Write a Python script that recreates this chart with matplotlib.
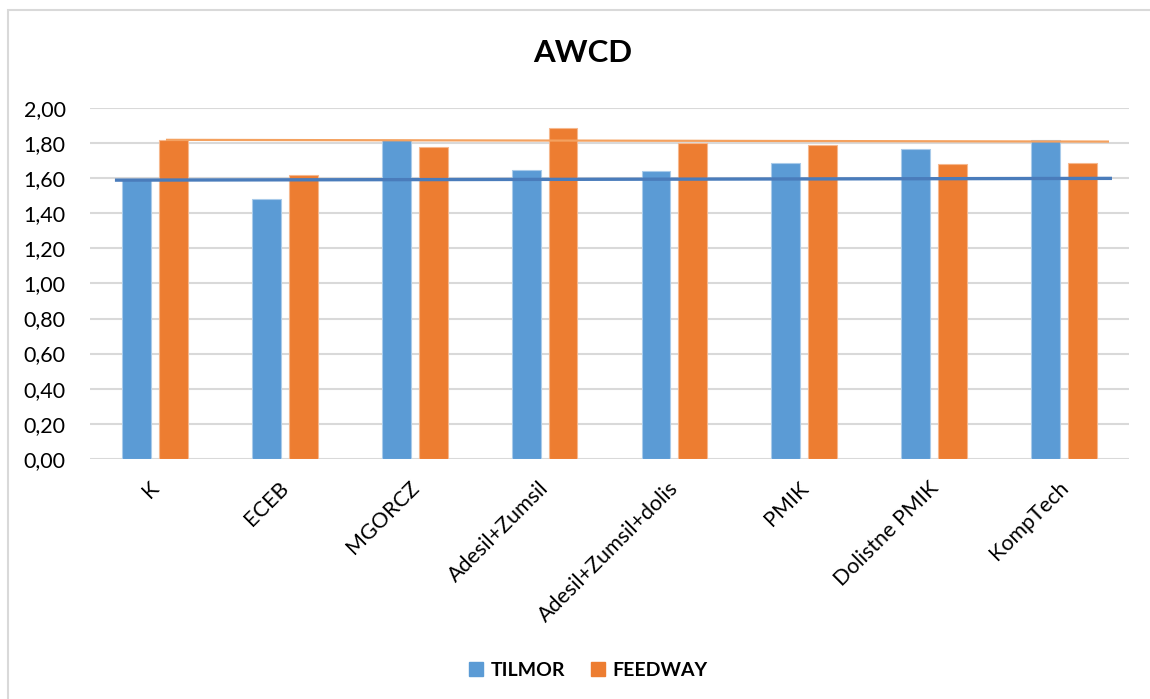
import matplotlib
matplotlib.use("Agg")
import matplotlib.pyplot as plt
from matplotlib.lines import Line2D
from matplotlib.patches import Rectangle
from matplotlib.transforms import ScaledTranslation
import numpy as np

# ---- data ----
categories = ["K", "ECEB", "MGORCZ", "Adesil+Zumsil", "Adesil+Zumsil+dolis",
              "PMIK", "Dolistne PMIK", "KompTech"]
tilmor = [1.59, 1.48, 1.82, 1.65, 1.64, 1.69, 1.77, 1.82]
feedway = [1.82, 1.62, 1.78, 1.89, 1.80, 1.79, 1.68, 1.69]
# reference lines (start value, end value)
tilmor_ref = [1.59, 1.60]
feedway_ref = [1.82, 1.81]
yticks = [0.0, 0.2, 0.4, 0.6, 0.8, 1.0, 1.2, 1.4, 1.6, 1.8, 2.0]
title = "AWCD"
series_names = ["TILMOR", "FEEDWAY"]

BLUE = "#5B9BD5"
ORANGE = "#ED7D31"
FONT = ["Lato", "DejaVu Sans"]
plt.rcParams["font.family"] = FONT

W, H = 1150, 699
fig = plt.figure(figsize=(W / 100, H / 100), dpi=100)
fig.patch.set_facecolor("white")

# outer chart frame
fig.add_artist(Rectangle((8 / W, -0.05), 1.2, 1 - 10 / H + 0.05,
                         transform=fig.transFigure, fill=False,
                         edgecolor="#D9D9D9", linewidth=1.5))

ax = fig.add_axes([90 / W, 240.3 / H, (1129 - 90) / W, (590.7 - 240.3) / H])
x = np.arange(len(categories))
bw = 0.223
off = 0.142
ax.bar(x - off, tilmor, width=bw, color=BLUE, edgecolor="#A9CBEA",
       linewidth=0.8, zorder=2)
ax.bar(x + off, feedway, width=bw, color=ORANGE, edgecolor="#F6B88E",
       linewidth=0.8, zorder=2)

ax.plot([-0.308, 7.369], tilmor_ref, color="#4A7CBB", linewidth=2.4,
        solid_capstyle="butt", zorder=4)
ax.plot([0.085, 7.346], feedway_ref, color="#F4A15F", linewidth=1.6,
        solid_capstyle="butt", zorder=3)

ax.set_xlim(-0.5, len(categories) - 0.5)
ax.set_ylim(0, 2.0)
ax.set_yticks(yticks)
ax.set_yticklabels([f"{v:.2f}".replace(".", ",") for v in yticks],
                   fontsize=15.5)
ax.yaxis.grid(True, color="#D9D9D9", linewidth=1.5, zorder=0)
ax.set_axisbelow(True)
for s in ax.spines.values():
    s.set_visible(False)
ax.tick_params(axis="y", length=0, pad=17.5)
ax.tick_params(axis="x", length=0, pad=0)

ax.set_xticks(x)
ax.set_xticklabels(categories, fontsize=15.5, rotation=45, ha="right",
                   va="top", rotation_mode="anchor")
shift = ScaledTranslation(-6 / 100, -19 / 100, fig.dpi_scale_trans)
for lab in ax.get_xticklabels():
    lab.set_transform(lab.get_transform() + shift)

fig.text(583 / W, 1 - 53 / H, title, fontsize=22.5, fontweight="bold",
         ha="center", va="center")

handles = [Line2D([], [], linestyle="none", marker="s", markersize=10,
                  markerfacecolor=c, markeredgecolor=c)
           for c in (BLUE, ORANGE)]
leg = fig.legend(handles, series_names, loc="center",
                 bbox_to_anchor=(588 / W, 1 - 670 / H), ncol=2,
                 frameon=False, handlelength=0.8, handletextpad=0.35,
                 columnspacing=1.3, prop={"family": FONT, "size": 14,
                                          "weight": "bold"})

fig.savefig("out.png", dpi=100, facecolor="white")
